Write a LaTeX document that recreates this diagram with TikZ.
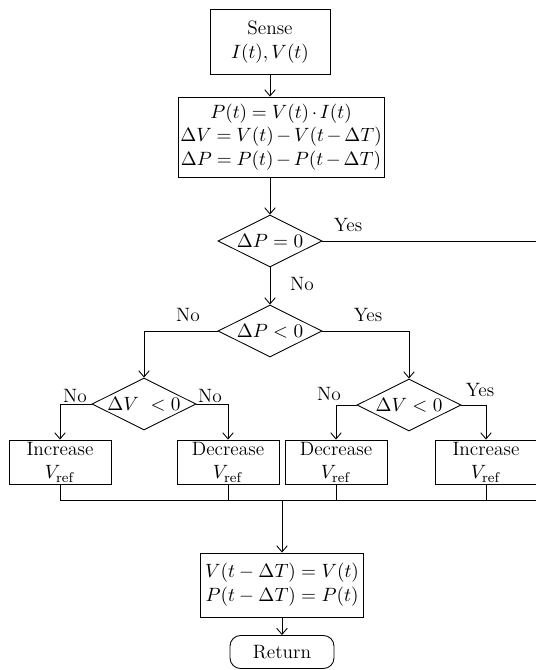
\documentclass[tikz,border=0pt]{standalone}
\usetikzlibrary{shapes.geometric,arrows.meta}
\begin{document}
\begin{tikzpicture}[x=0.02cm, y=-0.02cm, line width=0.5pt, >={Straight Barb[length=3.5pt,width=6pt]},
        font=\fontsize{11}{13.5}\selectfont,
        box/.style={draw, align=center, inner sep=0pt},
        dec/.style={draw, diamond, shape aspect=2, inner sep=0pt, minimum width=2.08cm, minimum height=1.04cm},
        vref/.style={box, minimum width=2.04cm, minimum height=0.88cm},
        lbl/.style={inner sep=1pt}]
        \useasboundingbox (0,0) rectangle (536,670);
        \def\my{500}
        \def\vy{462}

        \node[box, minimum width=2.4cm, minimum height=1.3cm] (sense) at (270,42) {Sense\\$I(t), V(t)$};
        \node[box, minimum width=4.12cm, minimum height=1.6cm,
            execute at begin node={\medmuskip=2.5mu\thickmuskip=4.5mu}] (calc) at (281,137)
            {$P(t) = V(t)\cdot I(t)$\\ $\Delta V = V(t) - V(t-\Delta T)$\\ $\Delta P = P(t) - P(t-\Delta T)$};
        \node[dec] (dp0) at (270,241) {$\Delta P = 0$};
        \node[dec] (dpn) at (270,331) {$\Delta P < 0$};
        \node[dec] (dvl) at (144,404) {$\Delta V\ < 0$};
        \node[dec] (dvr) at (409,405) {$\Delta V < 0$};
        \foreach \n/\x/\t in {incl/60/Increase, decl/228/Decrease, decr/336/Decrease, incr/486/Increase} {
            \node[vref] (\n) at (\x,\vy) {\t\\$V_{\mathrm{ref}}$};
        }
        \node[box, minimum width=3.26cm, minimum height=1.28cm] (upd) at (282,585)
            {$V(t-\Delta T) = V(t)$\\ $P(t-\Delta T) = P(t)$};
        \node[draw, rounded corners=6pt, minimum width=2.08cm, minimum height=0.66cm] (ret) at (282,652) {Return};

        % labels on the branches
        \node[lbl] (y0) at (348,225) {Yes};
        \node[lbl] (n0) at (302,284) {No};
        \node[lbl] (n1) at (188,315) {No};
        \node[lbl] (y1) at (368,315) {Yes};
        \node[lbl] (n2) at (75,396) {No};
        \node[lbl] (n3) at (210,396) {No};
        \node[lbl] (n4) at (329,394) {No};
        \node[lbl] (y4) at (480,390) {Yes};

        \coordinate (yes) at (536,241);
        \coordinate (mrg) at (536,\my);

        \draw[->] (sense.south) -- (sense.south |- calc.north);
        \draw[->] (calc.south -| dp0.north) -- (dp0.north);
        \draw (dp0.east) -- (yes);
        \draw[->] (dp0.south) -- (dpn.north);
        \draw[->] (dpn.west) -| (dvl.north);
        \draw[->] (dpn.east) -| (dvr.north);
        \draw[->] (dvl.west) -| (incl.north);
        \draw[->] (dvl.east) -| (decl.north);
        \draw[->] (dvr.west) -| (decr.north);
        \draw[->] (dvr.east) -| (incr.north);
        \foreach \n in {incl,decl,decr,incr} {\draw (\n.south) -- (\n.south |- mrg);}
        \draw (incl.south |- mrg) -- (mrg);
        \draw[->] (upd.north |- mrg) -- (upd.north);
        \draw[->] (upd.south) -- (ret.north);
\end{tikzpicture}
\end{document}
